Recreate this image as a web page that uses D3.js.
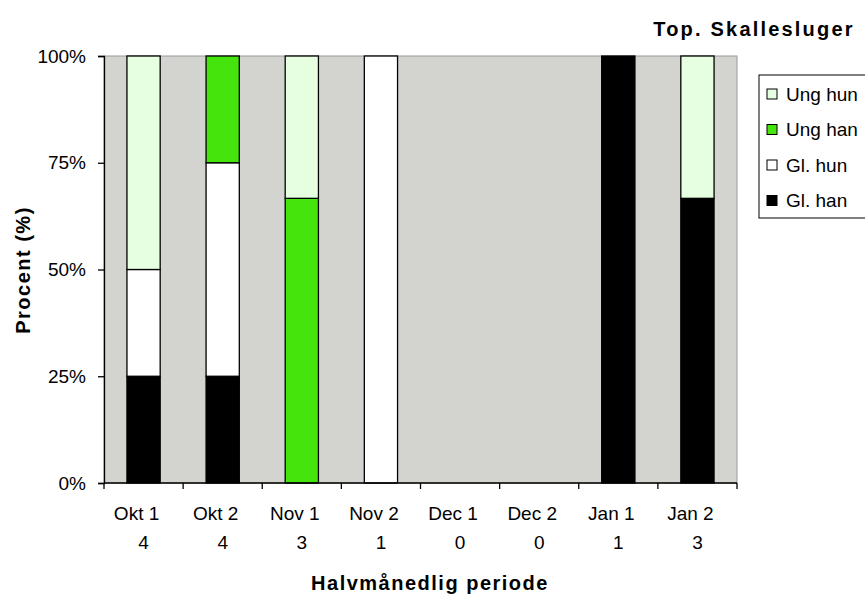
<!DOCTYPE html>
<html>
<head>
<meta charset="utf-8">
<script src="https://cdnjs.cloudflare.com/ajax/libs/d3/7.8.5/d3.min.js"></script>
<style>
  body { margin: 0; background: #fff; }
  svg { font-family: "Liberation Sans", Arial, sans-serif; }
</style>
</head>
<body>
<svg width="865" height="597"></svg>
<script>
// counts per half-month period
var periods = ["Okt 1", "Okt 2", "Nov 1", "Nov 2", "Dec 1", "Dec 2", "Jan 1", "Jan 2"];
var totals = [4, 4, 3, 1, 0, 0, 1, 3];
var glHan = [1, 1, 0, 0, 0, 0, 1, 2];
var glHun = [1, 2, 0, 1, 0, 0, 0, 0];
var ungHan = [0, 1, 2, 0, 0, 0, 0, 0];
var ungHun = [2, 0, 1, 0, 0, 0, 0, 1];
var keys = ["Gl. han", "Gl. hun", "Ung han", "Ung hun"];
var yTicks = [0, 0.25, 0.5, 0.75, 1];

var svg = d3.select("svg"),
    margin = {top: 56, right: 128, bottom: 114, left: 104},
    width = +svg.attr("width") - margin.left - margin.right,
    height = +svg.attr("height") - margin.top - margin.bottom,
    g = svg.append("g").attr("transform", "translate(" + margin.left + "," + margin.top + ")");

var data = periods.map(function(p, i) {
  return {period: p, n: totals[i], "Gl. han": glHan[i], "Gl. hun": glHun[i], "Ung han": ungHan[i], "Ung hun": ungHun[i]};
});

var x = d3.scaleBand()
  .domain(periods)
  .range([0, width])
  .paddingInner(0.58)
  .paddingOuter(0.29);

var xStep = d3.scaleBand().domain(periods).range([0, width]);

var y = d3.scaleLinear().domain([0, 1]).range([height, 0]);

var z = d3.scaleOrdinal()
  .domain(keys)
  .range(["#000000", "#ffffff", "#45e40c", "#e6ffe1"]);

// plot area
g.append("rect")
  .attr("width", width)
  .attr("height", height)
  .attr("fill", "#d3d4cf")
  .attr("stroke", "#9a9a9a")
  .attr("stroke-width", 1);

var stacked = d3.stack().keys(keys).offset(d3.stackOffsetExpand)(data);

g.append("g")
  .selectAll("g")
  .data(stacked)
  .enter().append("g")
  .attr("fill", function(d) { return z(d.key); })
  .selectAll("rect")
  .data(function(d) { return d.filter(function(s) { return s[1] - s[0] > 0; }); })
  .enter().append("rect")
  .attr("x", function(d) { return x(d.data.period); })
  .attr("y", function(d) { return y(d[1]); })
  .attr("height", function(d) { return y(d[0]) - y(d[1]); })
  .attr("width", x.bandwidth())
  .attr("stroke", "#000")
  .attr("stroke-width", 1.3);

// y axis
var yAxis = g.append("g")
  .call(d3.axisLeft(y).tickValues(yTicks).tickFormat(d3.format(".0%")).tickSize(6).tickPadding(12));
yAxis.selectAll("text").attr("font-size", 19).attr("fill", "#000").attr("font-family", "Liberation Sans, Arial, sans-serif");
yAxis.selectAll("line, path").attr("stroke", "#000").attr("stroke-width", 1.3);

// x axis, ticks on band edges
var xAxis = g.append("g").attr("transform", "translate(0," + height + ")");
xAxis.append("line")
  .attr("x1", 0).attr("x2", width)
  .attr("stroke", "#000").attr("stroke-width", 1.3);
xAxis.selectAll(".tick")
  .data(periods.concat(["end"]))
  .enter().append("line")
  .attr("x1", function(d, i) { return i * xStep.step(); })
  .attr("x2", function(d, i) { return i * xStep.step(); })
  .attr("y1", 0).attr("y2", 6)
  .attr("stroke", "#000").attr("stroke-width", 1.3);

var lbl = xAxis.selectAll(".lbl")
  .data(data)
  .enter().append("g")
  .attr("transform", function(d) { return "translate(" + (xStep(d.period) + xStep.bandwidth() / 2) + ",0)"; })
  .attr("font-size", 19)
  .attr("text-anchor", "middle");
lbl.append("text").attr("x", -7).attr("y", 37).text(function(d) { return d.period; });
lbl.append("text").attr("y", 66).text(function(d) { return d.n; });

// titles
svg.append("text")
  .attr("x", 754).attr("y", 36)
  .attr("text-anchor", "middle")
  .attr("font-size", 20).attr("font-weight", "bold")
  .attr("letter-spacing", 2.2)
  .text("Top. Skallesluger");

svg.append("text")
  .attr("x", 430).attr("y", 590)
  .attr("text-anchor", "middle")
  .attr("font-size", 20).attr("font-weight", "bold")
  .attr("letter-spacing", 1.5)
  .text("Halvmånedlig periode");

svg.append("text")
  .attr("transform", "translate(30,270) rotate(-90)")
  .attr("text-anchor", "middle")
  .attr("font-size", 20).attr("font-weight", "bold")
  .attr("letter-spacing", 1.5)
  .text("Procent (%)");

// legend (box runs off the right edge)
var lg = svg.append("g").attr("transform", "translate(759,75)");
lg.append("rect")
  .attr("width", 140).attr("height", 143)
  .attr("fill", "#fff").attr("stroke", "#000").attr("stroke-width", 1);

var item = lg.selectAll(".item")
  .data(keys.slice().reverse())
  .enter().append("g")
  .attr("transform", function(d, i) { return "translate(8," + (19 + i * 35.5) + ")"; });
item.append("rect")
  .attr("x", 0).attr("y", -5)
  .attr("width", 10).attr("height", 10)
  .attr("fill", z).attr("stroke", "#000").attr("stroke-width", 1);
item.append("text")
  .attr("x", 19).attr("dy", "0.35em")
  .attr("font-size", 19)
  .text(function(d) { return d; });
</script>
</body>
</html>
